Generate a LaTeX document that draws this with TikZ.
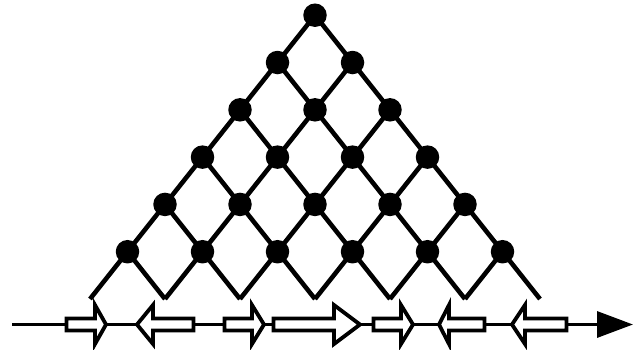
\documentclass[tikz,border=0pt]{standalone}
\usetikzlibrary{arrows.meta}
\begin{document}
\begin{tikzpicture}[x=1pt,y=-1pt,
  dot/.style={circle,fill=black,inner sep=0pt,minimum size=23.5pt},
  lattice/.style={line width=4.6pt},
  gene/.style={draw=black,fill=white,line width=3.8pt,line join=miter},
  axis/.style={line width=3.3pt,-{Triangle[length=36pt,width=26pt]}}]
\useasboundingbox (0,0) rectangle (634,349);
% bottom coordinates of the lattice
\foreach \k in {0,...,6}{
  \coordinate (n-0-\k) at ({90+75*\k},299);
}
% lattice nodes
\foreach \j in {1,...,6}{
  \pgfmathtruncatemacro{\kmax}{6-\j}
  \foreach \k in {0,...,\kmax}{
    \coordinate (n-\j-\k) at ({90+37.5*\j+75*\k},{299-47.3*\j});
  }
}
% edges
\foreach \j in {1,...,6}{
  \pgfmathtruncatemacro{\kmax}{6-\j}
  \pgfmathtruncatemacro{\jm}{\j-1}
  \foreach \k in {0,...,\kmax}{
    \pgfmathtruncatemacro{\kp}{\k+1}
    \draw[lattice] (n-\jm-\k) -- (n-\j-\k) -- (n-\jm-\kp);
  }
}
% dots
\foreach \j in {1,...,6}{
  \pgfmathtruncatemacro{\kmax}{6-\j}
  \foreach \k in {0,...,\kmax}{
    \node[dot] (d-\j-\k) at (n-\j-\k) {};
  }
}
% axis
\coordinate (ax0) at (12,324.5);
\coordinate (ax1) at (633,324.5);
\draw[axis] (ax0) -- (ax1);
% gene arrows: right-pointing (left, base, tip)
\foreach \a/\b/\t in {66.5/95/106, 224.5/252/264, 273.5/334/360, 373.5/401/413}{
  \draw[gene] (\a,318.5) -- (\b,318.5) -- (\b,305) -- (\t,324.5) -- (\b,344) -- (\b,330.5) -- (\a,330.5) -- cycle;
}
% gene arrows: left-pointing (tip, base, right)
\foreach \t/\b/\r in {137/153/193.5, 439/449/484.5, 512/525/566.5}{
  \draw[gene] (\r,318.5) -- (\b,318.5) -- (\b,305) -- (\t,324.5) -- (\b,344) -- (\b,330.5) -- (\r,330.5) -- cycle;
}
\end{tikzpicture}
\end{document}
